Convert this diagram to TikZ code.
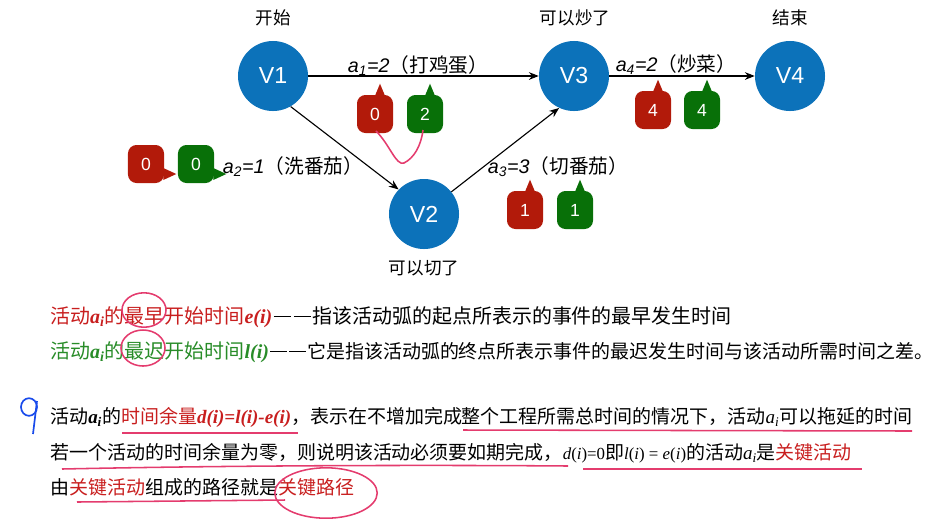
\documentclass[tikz,border=0pt]{standalone}
\usepackage{fontspec}
\setmainfont{Noto Sans CJK SC}
\newfontfamily\tms{Liberation Serif}
\newfontfamily\hel{Liberation Sans}
\definecolor{evblue}{RGB}{12,114,186}
\definecolor{calred}{RGB}{178,26,10}
\definecolor{calgreen}{RGB}{8,112,8}
\definecolor{txtred}{RGB}{200,30,30}
\definecolor{txtgreen}{RGB}{40,140,40}
\definecolor{inkpink}{RGB}{228,60,110}
\definecolor{inkblue}{RGB}{25,75,235}
\usepackage{tikz}
\usetikzlibrary{arrows.meta,positioning,calc}
\newcommand\ai{{\tms\bfseries\itshape a\textsubscript{i}}}
\newcommand\act[2]{{\hel\itshape a\textsubscript{#1}=#2}}
\newcommand\dashpair{\hspace{0.08em}\rule[0.32em]{0.85em}{0.07em}\hspace{0.15em}\rule[0.32em]{0.85em}{0.07em}\hspace{0.08em}}

\begin{document}
\begin{tikzpicture}[x=0.025cm, y=-0.025cm,
  event/.style={circle, fill=evblue, minimum size=1.75cm, inner sep=0pt, text=white, font=\hel\fontsize{16.5}{16.5}\selectfont},
  tag/.style={font=\fontsize{12.5}{14}\selectfont},
  arclabel/.style={font=\fontsize{14}{16}\selectfont},
  arc/.style={-{Stealth[length=7pt,width=5.5pt]}, line width=0.8pt},
  bub/.style={rounded corners=6pt, minimum width=0.9cm, minimum height=0.95cm, inner sep=0pt, text=white, font=\hel\fontsize{12.5}{12.5}\selectfont},
  ink/.style={draw=inkpink, line width=1.1pt},
  para/.style={anchor=west, inner sep=0pt, font=\fontsize{13.5}{16}\selectfont}
]
  \useasboundingbox (0,0) rectangle (944,522);

  %% events
  \node[event] (v1) at (273,76) {V1};
  \node[event] (v2) at (424,214) {V2};
  \node[event] (v3) at (574,76) {V3};
  \node[event] (v4) at (790,76) {V4};
  \node[tag] (t1) at (273,18) {开始};
  \node[tag] (t3) at (575,18) {可以炒了};
  \node[tag] (t4) at (790,18) {结束};
  \node[tag] (t2) at (424,268) {可以切了};

  %% activities
  \draw[arc] (v1.east) -- (v3.west);
  \draw[arc] (v1.-60) -- (v2.136);
  \draw[arc] (v2.39) -- (v3.245);
  \draw[arc] (v3.east) -- (v4.west);
  \node[arclabel] (l1) at (418,66) {\act{1}{2}（打鸡蛋）};
  \node[arclabel] (l2) at (293,167) {\act{2}{1}（洗番茄）};
  \node[arclabel] (l3) at (558,167) {\act{3}{3}（切番茄）};
  \node[arclabel] (l4) at (676,65) {\act{4}{2}（炒菜）};

  %% e(i) and l(i) bubbles
  \node[bub, fill=calred] (e1) at (375,114) {0};
  \fill[calred] ($(e1.north)+(0,1)$) -- ++(5,-12) -- ++(5,12) -- cycle;
  \node[bub, fill=calgreen] (g1) at (425,114) {2};
  \fill[calgreen] ($(g1.north)+(0,1)$) -- ++(5,-12) -- ++(5,12) -- cycle;
  \node[bub, fill=calred] (e2) at (146,164) {0};
  \fill[calred] ($(e2.east)+(-1,4)$) -- ++(13,6) -- ++(-13,6) -- cycle;
  \node[bub, fill=calgreen] (g2) at (196,164) {0};
  \fill[calgreen] ($(g2.east)+(-1,4)$) -- ++(13,6) -- ++(-13,6) -- cycle;
  \node[bub, fill=calred] (e3) at (525,210) {1};
  \fill[calred] ($(e3.north)+(0,1)$) -- ++(5,-12) -- ++(5,12) -- cycle;
  \node[bub, fill=calgreen] (g3) at (575,210) {1};
  \fill[calgreen] ($(g3.north)+(0,1)$) -- ++(5,-12) -- ++(5,12) -- cycle;
  \node[bub, fill=calred] (e4) at (653,110) {4};
  \fill[calred] ($(e4.north)+(0,1)$) -- ++(5,-12) -- ++(5,12) -- cycle;
  \node[bub, fill=calgreen] (g4) at (702,110) {4};
  \fill[calgreen] ($(g4.north)+(0,1)$) -- ++(5,-12) -- ++(5,12) -- cycle;
  \draw[ink] ($(e1.center)+(1,17)$) .. controls (390,145) and (396,166) .. (404,163)
    .. controls (414,158) and (421,146) .. ($(g1.center)+(-2,16)$);

  %% definitions
  \node[para, font=\fontsize{14.2}{16}\selectfont] (p1) at (50,317) {{\color{txtred}活动\ai 的最早开始时间{\tms\bfseries\itshape e(i)}}\dashpair 指该活动弧的起点所表示的事件的最早发生时间};
  \node[para] (p2) at (50,352) {{\color{txtgreen}\fontsize{14.2}{16}\selectfont 活动\ai 的最迟开始时间{\tms\bfseries\itshape l(i)}}\dashpair 它是指该活动弧的终点所表示事件的最迟发生时间与该活动所需时间之差。};
  \node[para] (p3) at (50,417) {活动\ai 的{\color{txtred}时间余量{\tms\bfseries\itshape d(i)=l(i)-e(i)}}，表示在不增加完成整个工程所需总时间的情况下，活动{\tms\itshape a\textsubscript{i}}可以拖延的时间};
  \node[para] (p4) at (50,453) {若一个活动的时间余量为零，则说明该活动必须要如期完成，{\tms\fontsize{12}{14}\selectfont\itshape d\upshape(\itshape i\upshape)=0}即{\tms\fontsize{12}{14}\selectfont\itshape l\upshape(\itshape i\upshape) = \itshape e\upshape(\itshape i\upshape)}的活动{\tms\itshape a\textsubscript{i}}是{\color{txtred}关键活动}};
  \node[para] (p5) at (50,487) {由{\color{txtred}关键活动}组成的路径就是{\color{txtred}关键路径}};

  %% hand marks
  \draw[ink] (144,310) ellipse (0.55cm and 0.43cm);
  \draw[ink] (143,348) ellipse (0.55cm and 0.45cm);
  \draw[ink] (326,493) ellipse (1.28cm and 0.63cm);
  \draw[ink] (122,433) -- (298,433);
  \draw[ink] (463,430) -- (912,431);
  \draw[ink] (62,469) .. controls (250,465) and (450,465) .. (568,466);
  \draw[ink] (583,469) -- (862,469);
  \draw[ink] (77,502) -- (285,500);
  \draw[inkblue, line width=1.2pt] (29,407) ellipse (0.2cm and 0.22cm);
  \draw[inkblue, line width=1.2pt] (37,401) -- (33,434);
\end{tikzpicture}
\end{document}
